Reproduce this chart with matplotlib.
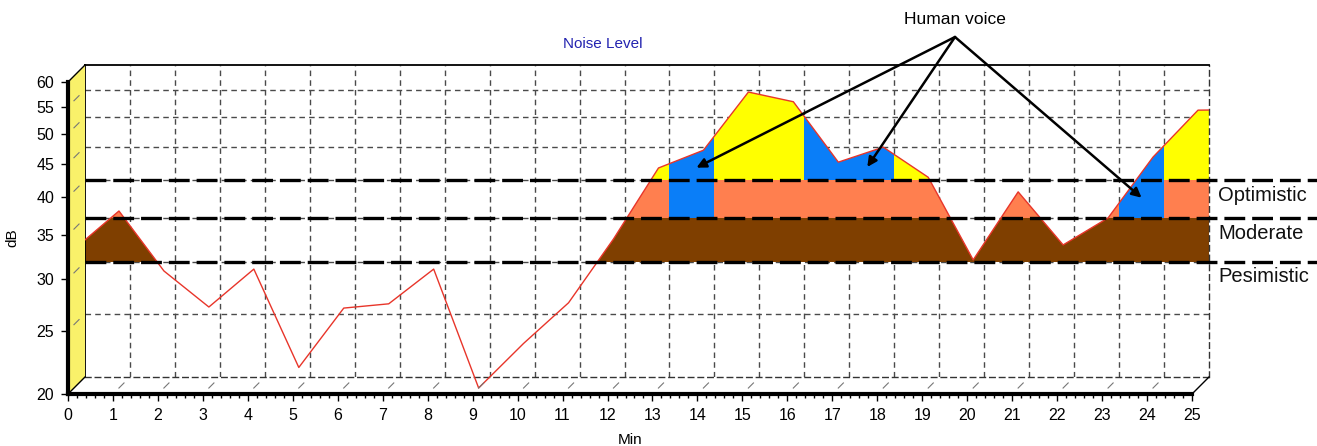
import numpy as np
import matplotlib
matplotlib.use('Agg')
import matplotlib.pyplot as plt
from matplotlib import transforms
from matplotlib.patches import Polygon, Rectangle
from matplotlib.lines import Line2D
from matplotlib.path import Path
from matplotlib.ticker import FixedLocator, FormatStrFormatter, MultipleLocator, NullLocator

plt.rcParams['font.family'] = ['Liberation Sans', 'DejaVu Sans']
plt.rcParams['lines.scale_dashes'] = False

# noise level per minute
minutes = np.arange(0, 27)
noise_db = [32.6, 37.3, 30.2, 26.6, 30.4, 21.5, 26.5, 26.9, 30.4, 20.0,
            23.4, 27.0, 33.8, 43.4, 46.2, 56.7, 54.8, 44.3, 46.7, 42.0,
            31.4, 39.9, 33.1, 36.4, 45.1, 53.2, 53.3]

# thresholds
levels = [30, 35, 40]
level_names = ['Pesimistic', 'Moderate', 'Optimistic']
band_colors = ['#7f3f00', '#ff7f4f', '#ffff00']

# columns painted as human voice, and the level they start from
voice_cols = [13, 16, 17, 23]
voice_from = [35, 40, 40, 35]
voice_color = '#0a7ef8'

# arrow tips for the "Human voice" note
voice_x = [13.6, 17.4, 23.5]
voice_y = [41.8, 41.9, 37.6]

x_ticks = list(range(0, 26))
y_ticks = [20, 25, 30, 35, 40, 45, 50, 55, 60]
grid_y = [25, 30, 35, 40, 45, 50, 55]

W, H = 1317, 446
DEPTH = 17      # px between front axis and back wall
SERIES = 11     # px the series sits in front of the back wall


def rect(l, t, r, b):
    return [l / W, 1 - b / H, (r - l) / W, (b - t) / H]


fig = plt.figure(figsize=(W / 100, H / 100), dpi=100)
ax = fig.add_axes(rect(68 + DEPTH, 82 - DEPTH, 1192 + DEPTH, 394 - DEPTH))
axf = fig.add_axes(rect(68, 82, 1192, 394))

for a in (ax, axf):
    a.set_xlim(0, 25)
    a.set_yscale('log')
    a.set_ylim(20, 60)

# back wall with grid
ax.xaxis.set_major_locator(FixedLocator(x_ticks[1:-1]))
ax.yaxis.set_major_locator(FixedLocator(grid_y))
ax.xaxis.set_minor_locator(NullLocator())
ax.yaxis.set_minor_locator(NullLocator())
ax.tick_params(length=0, labelbottom=False, labelleft=False)
ax.grid(True, color='#4a4a4a', ls=(0, (4, 3)), lw=1.0)
ax.set_axisbelow(True)
ax.spines['top'].set(color='k', lw=1.3)
ax.spines['left'].set(color='k', lw=1.3)
ax.spines['right'].set(color='#333333', lw=1.0, ls=(0, (4, 3)))
ax.spines['bottom'].set(color='#333333', lw=1.0, ls=(0, (4, 3)))

# series is drawn a bit in front of the back wall
st = transforms.offset_copy(ax.transData, fig=fig, x=-SERIES, y=-SERIES, units='dots')

area = Path(list(zip(minutes, noise_db)) + [(minutes[-1], 10), (0, 10)], closed=False)
for k in range(25):
    for j, lo in enumerate(levels):
        hi = levels[j + 1] if j + 1 < len(levels) else 100
        color = band_colors[j]
        if k in voice_cols and lo >= voice_from[voice_cols.index(k)]:
            color = voice_color
        r = Rectangle((k, lo), 1, hi - lo, facecolor=color, edgecolor='none',
                      zorder=2, antialiased=False)
        ax.add_patch(r)
        r.set_clip_path(area, st)

line, = ax.plot(minutes, noise_db, color='#e8352a', lw=1.0, transform=st,
                zorder=3, clip_on=True)
line.set_clip_path(Rectangle((-0.05, -0.1), 1.05, 1.2, transform=ax.transAxes))

# threshold lines across the whole picture
bt = transforms.blended_transform_factory(fig.transFigure, ax.transData)
x0 = ax.get_position().x0
for lv, name in zip(levels, level_names):
    ax.plot([x0, 1.0], [lv, lv], color='k', lw=2.4, ls=(0, (15, 5)),
            transform=bt, clip_on=False, zorder=4)
    ax.annotate(name, xy=(1218 / W, lv), xycoords=bt, xytext=(0, -4),
                textcoords='offset points', ha='left', va='top', fontsize=14.5,
                color='#111111', annotation_clip=False)

# front axis
axf.patch.set_visible(False)
axf.set_zorder(5)
axf.xaxis.set_major_locator(FixedLocator(x_ticks))
axf.xaxis.set_minor_locator(MultipleLocator(0.2))
axf.yaxis.set_major_locator(FixedLocator(y_ticks))
axf.yaxis.set_major_formatter(FormatStrFormatter('%d'))
axf.yaxis.set_minor_locator(NullLocator())
axf.spines['top'].set_visible(False)
axf.spines['right'].set_visible(False)
axf.spines['left'].set(color='k', lw=3)
axf.spines['bottom'].set(color='k', lw=3)
axf.tick_params(which='major', direction='out', length=5, width=1, labelsize=11.5, pad=5)
axf.tick_params(which='minor', direction='out', length=3, width=1)
axf.set_xlabel('Min', fontsize=11, labelpad=7)
axf.set_ylabel('dB', fontsize=11, labelpad=12)

# side wall and floor, joining front and back axes
to_fig = fig.transFigure.inverted()


def fpt(a, x, y):
    return to_fig.transform(a.transData.transform((x, y)))


wall = Polygon([fpt(axf, 0, 20), fpt(axf, 0, 60), fpt(ax, 0, 60), fpt(ax, 0, 20)],
               closed=True, facecolor='#f9f16a', edgecolor='none',
               transform=fig.transFigure, zorder=0)
fig.patches.append(wall)
for x, y in [(0, 60), (0, 20), (25, 20)]:
    p, q = fpt(axf, x, y), fpt(ax, x, y)
    fig.add_artist(Line2D([p[0], q[0]], [p[1], q[1]], color='k', lw=1.0,
                          transform=fig.transFigure))
for y in grid_y:
    p, q = fpt(axf, 0, y), fpt(ax, 0, y)
    m0, m1 = p + (q - p) * 0.35, p + (q - p) * 0.65
    fig.add_artist(Line2D([m0[0], m1[0]], [m0[1], m1[1]], color='#777777', lw=0.8,
                          transform=fig.transFigure))
for x in x_ticks[1:-1]:
    p, q = fpt(axf, x, 20), fpt(ax, x, 20)
    m0, m1 = p + (q - p) * 0.35, p + (q - p) * 0.65
    fig.add_artist(Line2D([m0[0], m1[0]], [m0[1], m1[1]], color='#777777', lw=0.8,
                          transform=fig.transFigure))

# titles and notes
fig.text(603 / W, 1 - 44 / H, 'Noise Level', color='#2323b0', fontsize=11,
         ha='center', va='center')
fig.text(955 / W, 1 - 20 / H, 'Human voice', color='k', fontsize=12.5,
         ha='center', va='center')
for vx, vy in zip(voice_x, voice_y):
    ax.annotate('', xy=(vx, vy), xycoords='data', xytext=(955, H - 37),
                textcoords='figure pixels',
                arrowprops=dict(arrowstyle='-|>', color='k', lw=1.8,
                                mutation_scale=14, shrinkA=0, shrinkB=0),
                zorder=6, annotation_clip=False)

fig.savefig('out.png', dpi=100)
